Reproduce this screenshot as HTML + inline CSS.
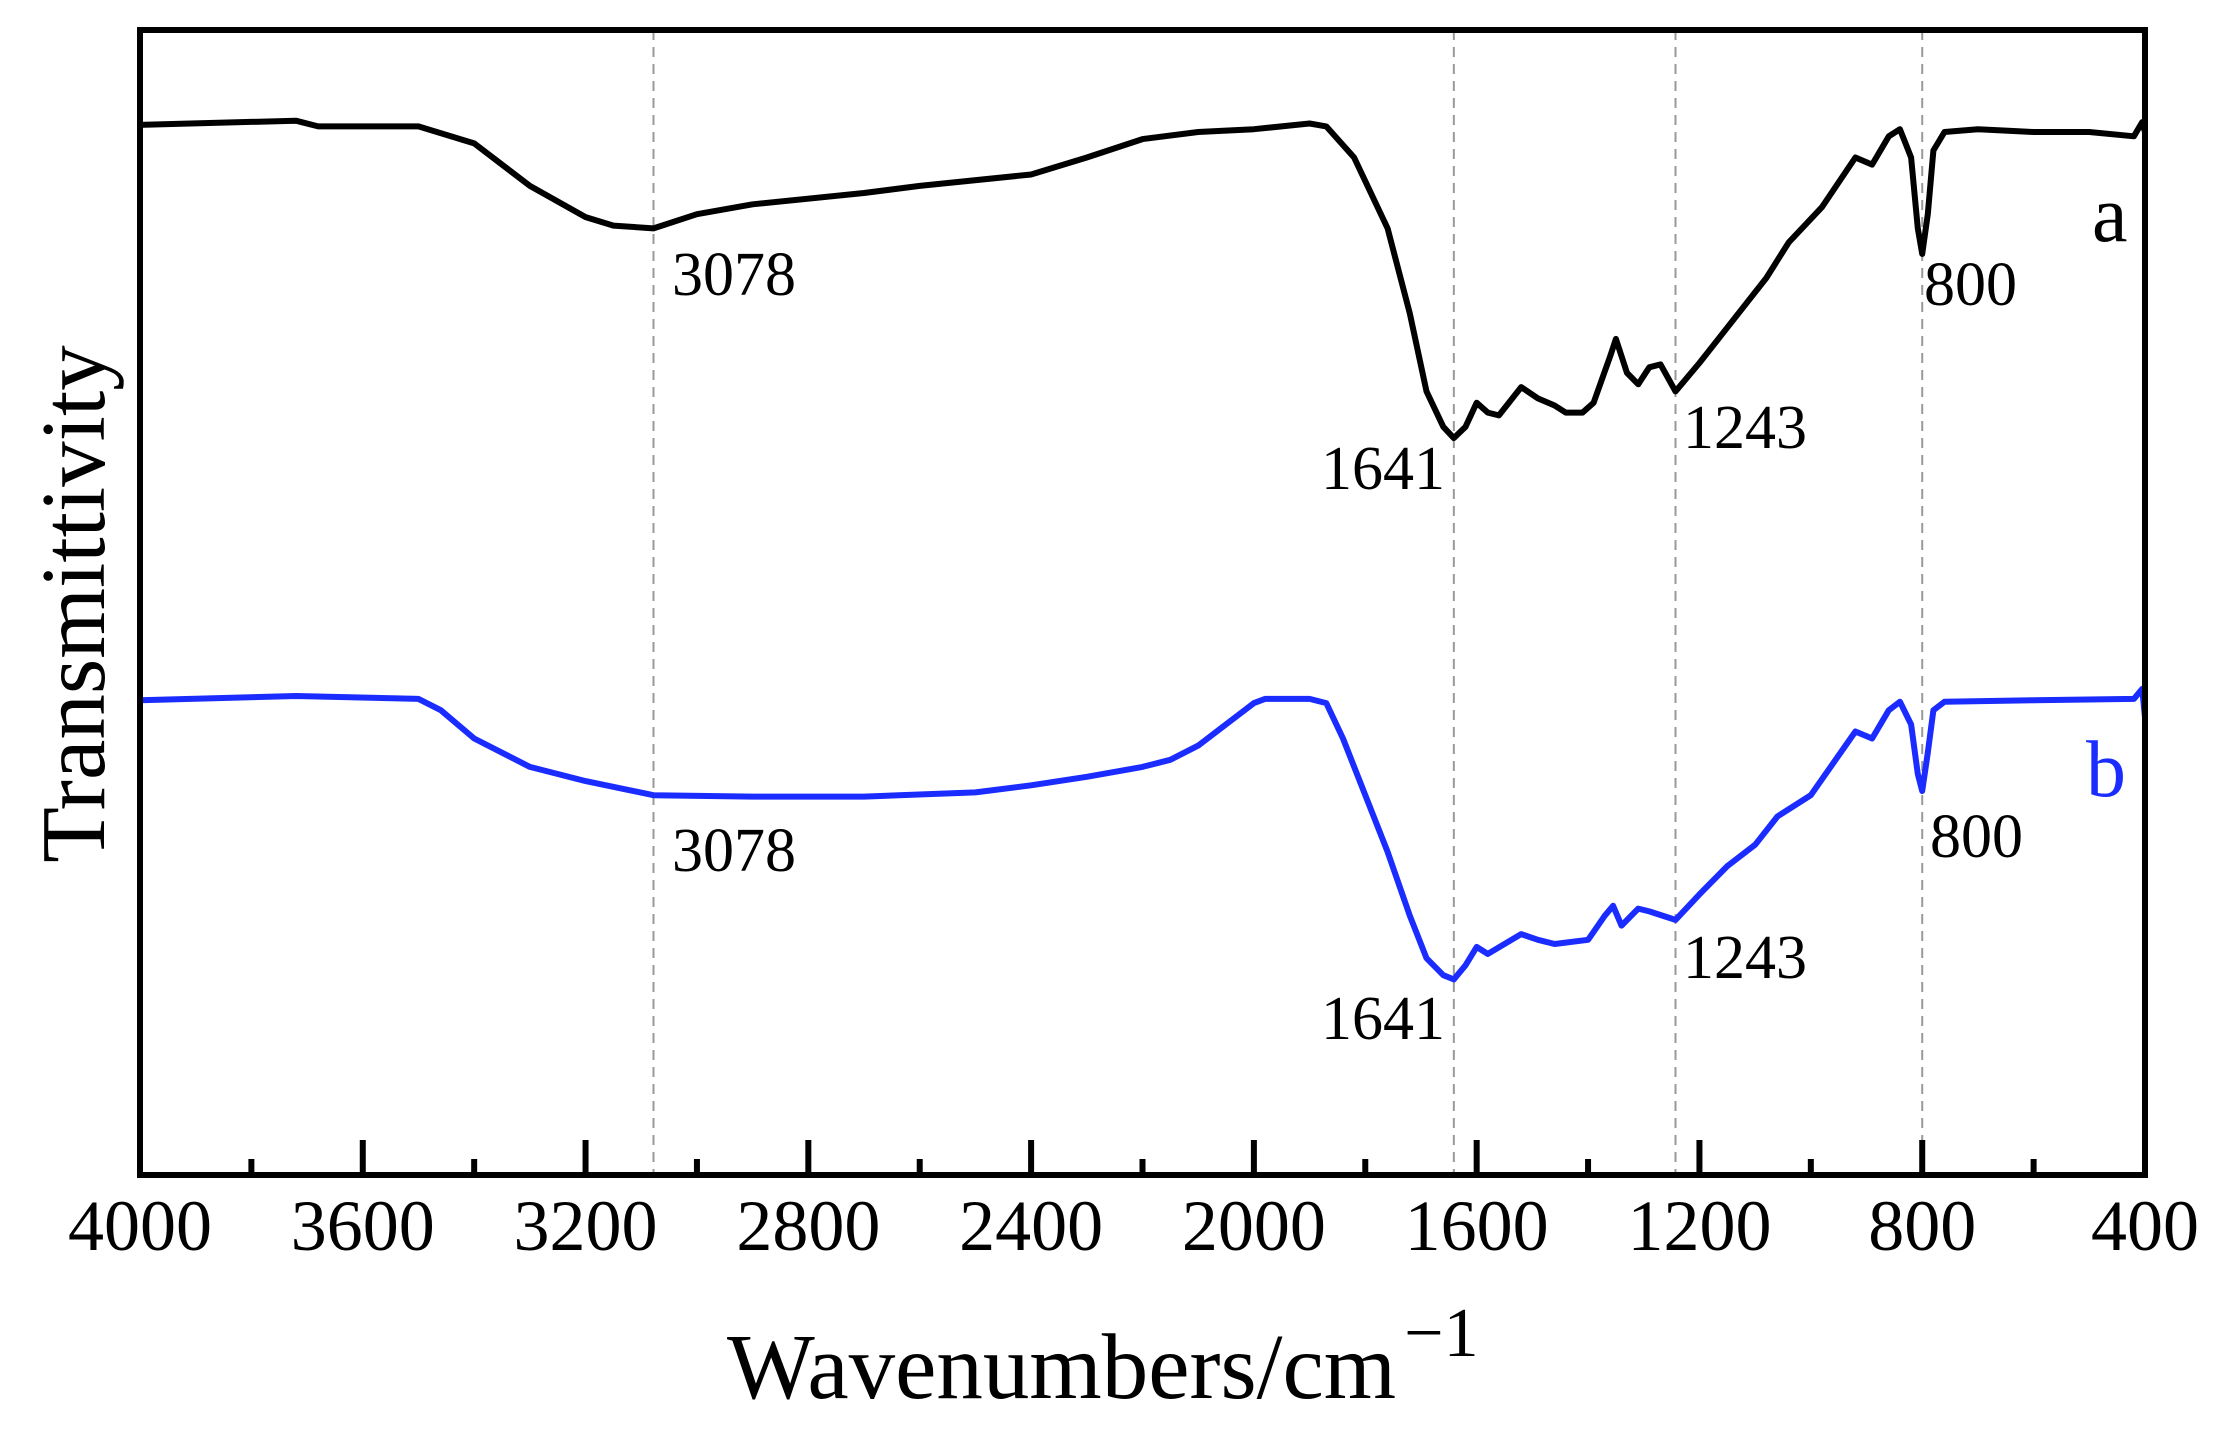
<!DOCTYPE html>
<html><head><meta charset="utf-8"><style>
html,body{margin:0;padding:0;background:#fff;}
svg{display:block;font-family:"Liberation Serif",serif;}
</style></head><body>
<svg id="chart" width="2222" height="1430" viewBox="0 0 2222 1430">
<g id="grid"></g>
<g id="series"></g>
<g id="axes"></g>
<g id="labels"></g>
<text x="727" y="1398" font-size="93">Wavenumbers/cm<tspan dx="8" dy="-42" font-size="70">−1</tspan></text>
<text transform="translate(104,604) rotate(-90)" font-size="91" text-anchor="middle">Transmittivity</text>
</svg>
<script>
const xTicks=[4000,3600,3200,2800,2400,2000,1600,1200,800,400];
const peaks=[3078,1641,1243,800];
const waveA=[4000,3720,3680,3500,3400,3300,3200,3150,3078,3000,2900,2700,2600,2400,2300,2200,2100,2000,1900,1870,1820,1760,1720,1690,1660,1641,1620,1600,1580,1560,1520,1490,1460,1440,1410,1390,1360,1350,1330,1310,1290,1270,1243,1200,1160,1120,1080,1040,980,920,890,860,840,820,808,800,790,780,760,700,600,500,420,405,400];
const valA=[741,744,740,740,728,698,676,670,668,678,685,693,698,706,718,731,736,738,742,740,718,668,608,553,528,520,528,545,538,536,556,548,543,538,538,545,578,590,566,558,570,572,553,573,593,613,633,658,683,718,713,733,738,718,668,650,678,723,736,738,736,736,733,743,736];
const waveB=[4000,3720,3500,3460,3400,3300,3200,3078,2900,2700,2500,2400,2300,2200,2150,2100,2050,2000,1980,1900,1870,1840,1800,1760,1720,1690,1660,1641,1620,1600,1580,1520,1490,1460,1400,1370,1355,1340,1310,1290,1243,1200,1150,1100,1060,1000,920,890,860,840,820,808,800,790,780,760,600,420,405,400];
const valB=[335,338,336,328,308,288,278,268,267,267,270,275,281,288,293,303,318,333,336,336,333,308,268,228,183,153,141,138,148,161,156,170,166,163,166,183,190,176,188,186,180,198,218,233,253,268,313,308,328,334,318,283,271,298,328,334,335,336,343,323];
const L=140,R=2145,T=30,B=1175;
const NS="http://www.w3.org/2000/svg";
function xs(w){return L+(4000-w)/3600*(R-L);}
function ys(v){return B-v*(B-T)/808;}
function mk(tag,attrs,parent){const e=document.createElementNS(NS,tag);for(const k in attrs)e.setAttribute(k,attrs[k]);parent.appendChild(e);return e;}
const grid=document.getElementById('grid'),series=document.getElementById('series'),axes=document.getElementById('axes'),labels=document.getElementById('labels');
peaks.forEach(p=>{const l=mk('line',{x1:xs(p),x2:xs(p),y1:T,y2:B,stroke:'#999','stroke-width':2,'stroke-dasharray':'10 7'},grid);

});
function path(ws,vs,color,name){let d='';ws.forEach((w,i)=>{d+=(i?'L':'M')+xs(w).toFixed(1)+','+ys(vs[i]).toFixed(1);});
const p=mk('path',{d:d,fill:'none',stroke:color,'stroke-width':6,'stroke-linejoin':'round'},series);

}
path(waveA,valA,'#000','series-a');
path(waveB,valB,'#1a2cff','series-b');
const frame=mk('rect',{x:L,y:T,width:R-L,height:B-T,fill:'none',stroke:'#000','stroke-width':6},axes);


for(let w=4000;w>=400;w-=200){const major=(w%400===0);
const t=mk('line',{x1:xs(w),x2:xs(w),y1:B,y2:B-(major?35:16),stroke:'#000','stroke-width':6},axes);

}
xTicks.forEach(w=>{const t=mk('text',{x:xs(w),y:1250,'font-size':72,'text-anchor':'middle'},axes);t.textContent=w;

});
const ann=[["3078",672,295,'#000'],["1641",1321,489,'#000'],["1243",1683,448,'#000'],["800",1924,305,'#000'],
["3078",672,871,'#000'],["1641",1321,1039,'#000'],["1243",1683,978,'#000'],["800",1930,857,'#000']];
ann.forEach((a,i)=>{const t=mk('text',{x:a[1],y:a[2],'font-size':62,fill:a[3]},labels);t.textContent=a[0];

});
const la=mk('text',{x:2092,y:241,'font-size':80,fill:'#000'},labels);la.textContent='a';


const lb=mk('text',{x:2086,y:796,'font-size':80,fill:'#1a2cff'},labels);lb.textContent='b';


</script>
</body></html>
